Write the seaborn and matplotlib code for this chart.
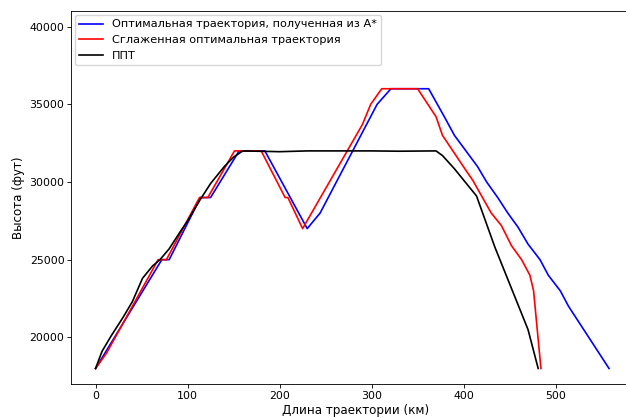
import matplotlib
matplotlib.use("Agg")
import matplotlib.pyplot as plt
import seaborn as sns
import pandas as pd

# A* optimal trajectory (blue)
astar_x = [0, 72, 80, 114, 125, 156, 184, 230, 244, 306, 321, 362, 379, 390, 415,
           425, 437, 448, 459, 470, 483, 492, 505, 514, 558]
astar_y = [18000, 25000, 25000, 29000, 29000, 32000, 32000, 27000, 28000, 35000,
           36000, 36000, 34200, 33000, 31000, 30000, 29000, 28000, 27100, 26000,
           25000, 24000, 23000, 22000, 18000]

# Smoothed optimal trajectory (red)
smooth_x = [0, 12, 68, 77, 113, 122, 151, 180, 206, 209, 225, 290, 299, 311, 350,
            370, 377, 403, 410, 430, 441, 452, 463, 472, 476, 484]
smooth_y = [18000, 19000, 25000, 25000, 29000, 29000, 32000, 32000, 29000, 29000,
            27000, 33700, 35000, 36000, 36000, 34200, 33000, 30700, 30100, 28000,
            27200, 25900, 25000, 24000, 23000, 18000]

# ППТ (black)
ppt_x = [0, 7, 17, 30, 40, 51, 62, 70, 80, 92, 100, 113, 125, 140, 150, 160, 200,
         230, 300, 330, 370, 377, 390, 414, 434, 470, 481]
ppt_y = [18000, 19100, 20100, 21300, 22300, 23800, 24600, 25000, 25700, 26800,
         27500, 28800, 29900, 31000, 31600, 32000, 31950, 32000, 32000, 31980,
         32000, 31700, 30850, 29100, 25800, 20500, 18000]

labels = ["Оптимальная траектория, полученная из A*",
          "Сглаженная оптимальная траектория",
          "ППТ"]
colors = ["blue", "red", "black"]

TICK_FS = 7.9
LEG_FS = 8.1
LAB_FS = 8.6
plt.rcParams.update({
    "xtick.major.size": 2.7,
    "ytick.major.size": 2.7,
    "xtick.major.width": 0.62,
    "ytick.major.width": 0.62,
    "axes.linewidth": 0.62,
})

fig = plt.figure(figsize=(6.26, 4.18), dpi=100)
ax = fig.add_axes([0.1134, 0.0813, 0.9080, 0.8923])

for xs, ys, lab, col in zip([astar_x, smooth_x, ppt_x], [astar_y, smooth_y, ppt_y], labels, colors):
    df = pd.DataFrame({"x": xs, "y": ys})
    sns.lineplot(data=df, x="x", y="y", sort=False, color=col, label=lab,
                 linewidth=1.2, ax=ax, estimator=None)

ax.set_xlim(-26.7, 591)
ax.set_ylim(17000, 41000)
ax.set_xticks([0, 100, 200, 300, 400, 500])
ax.set_yticks([20000, 25000, 30000, 35000, 40000])
ax.set_xlabel("Длина траектории (км)", fontsize=LAB_FS, labelpad=2.5)
ax.set_ylabel("Высота (фут)", fontsize=LAB_FS, labelpad=3)
ax.tick_params(labelsize=TICK_FS, pad=2.0)
ax.legend(loc="upper left", fontsize=LEG_FS, frameon=True, handlelength=2.1,
          borderaxespad=0.35)

fig.savefig("out.png", dpi=100)
